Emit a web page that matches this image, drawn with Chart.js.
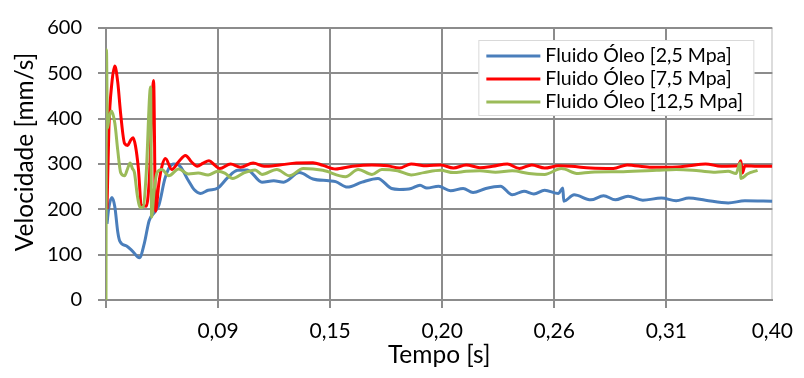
<!DOCTYPE html>
<html>
<head>
<meta charset="utf-8">
<script src="https://cdn.jsdelivr.net/npm/chart.js@4.4.1/dist/chart.umd.min.js"></script>
<style>
  html, body { margin: 0; padding: 0; background: #fff; }
  #wrap { width: 804px; height: 378px; }
</style>
</head>
<body>
<div id="wrap"><canvas id="chart"></canvas></div>
<script>
// x is measured in label steps along the category axis (one step per labelled tick)
const xTickPos = [0, 1, 2, 3, 4, 5, 5.946]
const xTickLabels = ['', '0,09', '0,15', '0,20', '0,26', '0,31', '0,40']
const yTicks = [0, 100, 200, 300, 400, 500, 600]

const seriesNames = ['Fluido Óleo [2,5 Mpa]', 'Fluido Óleo [7,5 Mpa]', 'Fluido Óleo [12,5 Mpa]']

const blueX = [0.009, 0.026, 0.053, 0.079, 0.105, 0.123, 0.184, 0.236, 0.298, 0.342, 0.385, 0.438, 0.473, 0.525, 0.560,
  0.604, 0.648, 0.736, 0.788, 0.841, 0.911, 0.998, 1.086, 1.173, 1.261, 1.392, 1.497, 1.585, 1.725, 1.847, 1.988, 2.049,
  2.154, 2.285, 2.426, 2.548, 2.618, 2.723, 2.802, 2.863, 2.968, 3.074, 3.187, 3.275, 3.389, 3.520, 3.625, 3.730, 3.818,
  3.914, 4.037, 4.076, 4.085, 4.177, 4.326, 4.440, 4.545, 4.658, 4.790, 4.956, 5.088, 5.201, 5.350, 5.552, 5.701, 5.946]
const blueY = [168, 205, 226, 205, 150, 130, 119, 108, 93, 125, 175, 195, 210, 267, 290,
  300, 298, 263, 243, 235, 242, 247, 270, 286, 287, 260, 263, 260, 281, 267, 263, 261,
  249, 260, 268, 246, 244, 246, 253, 247, 251, 241, 246, 237, 246, 251, 232, 240, 234,
  242, 235, 247, 218, 232, 221, 230, 221, 229, 220, 225, 219, 225, 220, 214, 219, 218]

const redX = [0.009, 0.026, 0.053, 0.079, 0.105, 0.131, 0.166, 0.193, 0.219, 0.241, 0.263, 0.289, 0.315, 0.359, 0.385,
  0.425, 0.442, 0.473, 0.499, 0.530, 0.587, 0.648, 0.709, 0.762, 0.814, 0.867, 0.919, 0.972, 1.016, 1.112, 1.200, 1.313,
  1.410, 1.550, 1.699, 1.847, 1.935, 2.049, 2.198, 2.373, 2.513, 2.618, 2.723, 2.863, 2.986, 3.100, 3.214, 3.336, 3.450,
  3.581, 3.688, 3.800, 3.914, 4.037, 4.151, 4.326, 4.527, 4.650, 4.851, 5.053, 5.201, 5.350, 5.490, 5.639, 5.665, 5.679,
  5.701, 5.814, 5.946]
const redY = [200, 380, 480, 516, 480, 410, 345, 341, 352, 358, 340, 290, 210, 207, 260,
  484, 196, 260, 295, 312, 288, 305, 319, 305, 295, 302, 307, 297, 290, 300, 293, 302,
  295, 298, 302, 303, 297, 289, 295, 298, 296, 291, 300, 296, 298, 291, 298, 292, 295,
  300, 290, 298, 291, 296, 295, 291, 290, 298, 293, 293, 296, 300, 295, 296, 307, 280,
  296, 295, 295]

const greenX = [0.000, 0.004, 0.013, 0.026, 0.048, 0.079, 0.105, 0.131, 0.166, 0.193, 0.215, 0.236, 0.254, 0.280, 0.306,
  0.333, 0.359, 0.398, 0.407, 0.429, 0.455, 0.499, 0.560, 0.648, 0.736, 0.823, 0.911, 0.998, 1.060, 1.130, 1.235, 1.331,
  1.392, 1.524, 1.637, 1.760, 1.935, 2.137, 2.250, 2.373, 2.461, 2.601, 2.723, 2.837, 2.986, 3.100, 3.214, 3.336, 3.476,
  3.625, 3.774, 3.914, 4.063, 4.212, 4.326, 4.615, 4.912, 5.088, 5.289, 5.438, 5.552, 5.622, 5.657, 5.666, 5.723, 5.814]
const greenY = [0, 552, 379, 400, 417, 390, 330, 281, 274, 290, 302, 290, 281, 230, 204,
  206, 280, 470, 183, 240, 281, 288, 274, 289, 278, 280, 276, 284, 280, 268, 281, 287,
  277, 288, 274, 290, 286, 272, 288, 277, 288, 285, 276, 281, 286, 281, 284, 285, 282,
  285, 279, 277, 290, 279, 282, 283, 286, 288, 285, 282, 284, 279, 302, 268, 278, 286]

const colors = ['#4A7EBB', '#FF0000', '#9BBB59']
const gridColor = '#8c8c8c'
const font = 'Lato'
const yTitle = 'Velocidade [mm/s]'

const toPoints = (xs, ys) => xs.map((x, i) => ({ x: x, y: ys[i] }))

// legend box drawn inside the plot, top right
const boxLegend = {
  id: 'boxLegend',
  afterDatasetsDraw(chart) {
    const ctx = chart.ctx
    const area = chart.chartArea
    const w = 276, h = 76
    const x0 = area.right - 18 - w
    const y0 = area.top + 12
    ctx.save()
    ctx.fillStyle = '#fff'
    ctx.fillRect(x0, y0, w, h)
    ctx.strokeStyle = '#d9d9d9'
    ctx.lineWidth = 1
    ctx.strokeRect(x0 + 0.5, y0 + 0.5, w - 1, h - 1)
    ctx.font = '19.5px ' + font
    ctx.textBaseline = 'middle'
    ctx.fillStyle = '#000'
    chart.data.datasets.forEach((ds, i) => {
      const y = y0 + 16 + i * 23
      ctx.strokeStyle = ds.borderColor
      ctx.lineWidth = 3
      ctx.beginPath()
      ctx.moveTo(x0 + 8, y)
      ctx.lineTo(x0 + 62, y)
      ctx.stroke()
      ctx.fillText(ds.label, x0 + 67, y)
    })
    ctx.restore()
  }
}

// vertical axis title, sitting a little above the plot's middle
const sideTitle = {
  id: 'sideTitle',
  afterDraw(chart) {
    const ctx = chart.ctx
    const area = chart.chartArea
    ctx.save()
    ctx.translate(25, (area.top + area.bottom) / 2 - 12)
    ctx.rotate(-Math.PI / 2)
    ctx.font = '24.5px ' + font
    ctx.fillStyle = '#000'
    ctx.textAlign = 'center'
    ctx.textBaseline = 'middle'
    ctx.fillText(yTitle, 0, 0)
    ctx.restore()
  }
}

new Chart(document.getElementById('chart'), {
  type: 'line',
  data: {
    datasets: [
      { label: seriesNames[0], data: toPoints(blueX, blueY), borderColor: colors[0], order: 2 },
      { label: seriesNames[1], data: toPoints(redX, redY), borderColor: colors[1], order: 1 },
      { label: seriesNames[2], data: toPoints(greenX, greenY), borderColor: colors[2], order: 0 }
    ]
  },
  options: {
    responsive: true,
    maintainAspectRatio: false,
    animation: false,
    layout: { padding: { left: 0, right: 19, top: 15, bottom: 0 } },
    elements: {
      line: { borderWidth: 3, cubicInterpolationMode: 'monotone', fill: false },
      point: { radius: 0 }
    },
    plugins: {
      legend: { display: false },
      tooltip: { enabled: false }
    },
    scales: {
      x: {
        type: 'linear',
        min: xTickPos[0],
        max: xTickPos[xTickPos.length - 1],
        afterBuildTicks: scale => { scale.ticks = xTickPos.map(v => ({ value: v })) },
        afterFit: scale => { scale.height = 78 },
        grid: {
          color: c => c.index === xTickPos.length - 1 ? '#dcdcdc' : gridColor,
          tickColor: c => c.index === xTickPos.length - 1 ? 'rgba(0,0,0,0)' : gridColor,
          lineWidth: 2,
          tickLength: 8
        },
        border: { color: gridColor, width: 2 },
        ticks: {
          autoSkip: false,
          maxRotation: 0,
          padding: 11,
          color: '#000',
          font: { family: font, size: 21 },
          callback: (v, i) => xTickLabels[i]
        },
        title: {
          display: true,
          text: 'Tempo [s]',
          color: '#000',
          font: { family: font, size: 24.5 },
          padding: { top: 0, bottom: 8 }
        }
      },
      y: {
        min: yTicks[0],
        max: yTicks[yTicks.length - 1],
        afterBuildTicks: scale => { scale.ticks = yTicks.map(v => ({ value: v })) },
        afterFit: scale => { scale.width = 106 },
        grid: { color: gridColor, lineWidth: 2, tickLength: 8 },
        border: { color: gridColor, width: 2 },
        ticks: {
          padding: 16,
          color: '#000',
          font: { family: font, size: 20 }
        }
      }
    }
  },
  plugins: [boxLegend, sideTitle]
})
</script>
</body>
</html>
